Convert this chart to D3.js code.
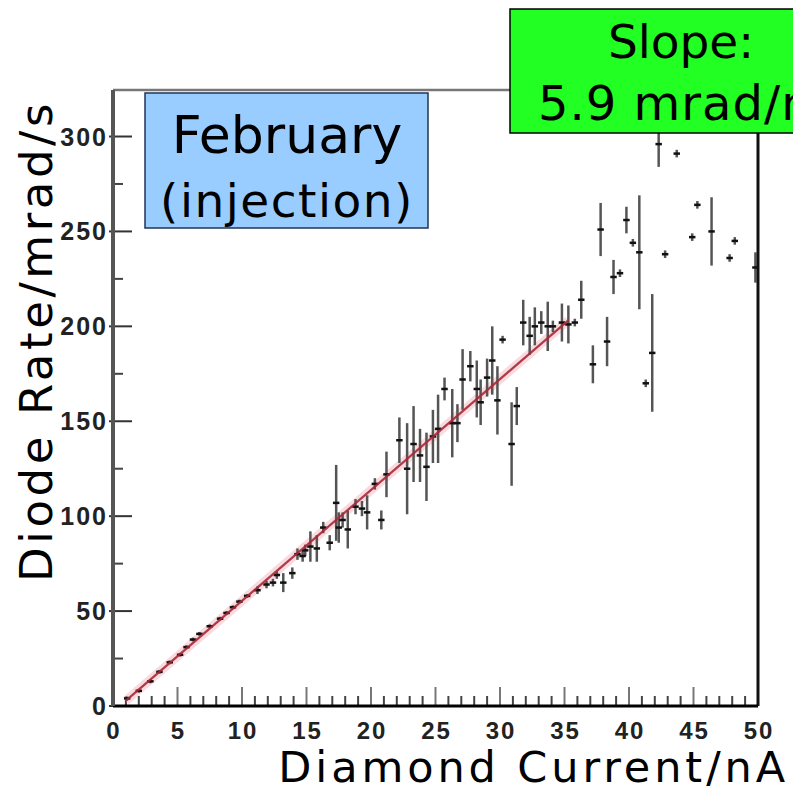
<!DOCTYPE html>
<html>
<head>
<meta charset="utf-8">
<script src="https://cdn.jsdelivr.net/npm/d3@7"></script>
<style>
  body { margin: 0; background: #fff; }
  svg { display: block; }
</style>
</head>
<body>
<svg id="chart" width="793" height="794"></svg>
<script>
// Diamond current vs diode rate, February (injection)
var current = [1.1, 2.0, 2.9, 3.6, 4.4, 5.2, 5.7, 6.2, 6.7, 7.5, 8.3, 8.8, 9.3, 9.8, 10.4,
  11.2, 11.9, 12.4, 12.7, 13.2, 13.9, 14.3, 14.7, 14.9, 15.3, 15.8, 16.3, 16.8, 17.3, 17.5,
  17.8, 18.2, 18.8, 19.3, 19.7, 20.3, 20.8, 21.2, 22.2, 22.8, 23.3, 23.8, 24.3, 24.8, 25.2,
  25.7, 26.3, 26.7, 27.1, 27.7, 28.2, 28.5, 29.0, 29.4, 29.8, 30.2, 30.9, 31.3, 31.8, 32.3,
  32.7, 33.2, 33.7, 34.1, 34.8, 35.3, 35.8, 36.3, 37.2, 37.8, 38.3, 38.8, 39.3, 39.8, 40.3,
  40.8, 41.3, 41.8, 42.3, 42.8, 43.7, 44.9, 45.3, 46.4, 47.8, 48.2, 49.8];
var rate = [4, 8, 13, 18, 23, 27, 31, 35, 38, 42, 46, 49, 52, 55, 58,
  61, 64, 65, 69, 65, 70, 80, 79, 82, 84, 83, 94, 86, 107, 94,
  98, 93, 105, 104, 102, 117, 98, 122, 140, 125, 138, 132, 126, 142, 146,
  167, 149, 149, 172, 179, 167, 160, 173, 182, 161, 193, 138, 158, 202, 195,
  200, 202, 200, 200, 202, 201, 202, 214, 180, 251, 192, 226, 228, 256, 244,
  239, 170, 186, 296, 238, 291, 247, 264, 250, 236, 245, 231];
var rateErr = [1, 1, 1, 1, 1, 1, 1, 1, 1, 1, 1, 1, 1, 1, 1,
  2, 2, 2, 2, 5, 3, 3, 3, 3, 8, 7, 3, 4, 20, 8,
  4, 10, 4, 4, 9, 3, 5, 12, 12, 24, 20, 14, 18, 14, 18,
  6, 18, 10, 16, 8, 15, 12, 10, 18, 18, 2, 22, 10, 12, 10,
  10, 6, 13, 3, 10, 10, 2, 10, 10, 14, 13, 9, 2, 7, 2,
  30, 2, 31, 12, 2, 2, 2, 2, 18, 2, 2, 8];
var currentErr = 0.25;

var fitSlope = 5.84, fitIntercept = -3.0, fitRange = [1.0, 35.3];

var xTicks = [0, 5, 10, 15, 20, 25, 30, 35, 40, 45, 50];
var yTicks = [0, 50, 100, 150, 200, 250, 300];

var margin = { top: 90, right: 35, bottom: 88, left: 113 };
var svgWidth = 793, svgHeight = 794;
var width = svgWidth - margin.left - margin.right;
var height = svgHeight - margin.top - margin.bottom;

var svg = d3.select("#chart");
var g = svg.append("g")
  .attr("transform", "translate(" + margin.left + "," + margin.top + ")");

var x = d3.scaleLinear().domain([0, 50]).range([0, width]);
var y = d3.scaleLinear().domain([0, 324.5]).range([height, 0]);

// minor ticks (ROOT style, drawn inside the frame)
var xMinor = d3.range(0, 51, 1).filter(function(d) { return d % 5 !== 0; });
var yMinor = d3.range(25, 325, 50);

g.selectAll(".xminor").data(xMinor).enter().append("line")
  .attr("x1", function(d) { return x(d); }).attr("x2", function(d) { return x(d); })
  .attr("y1", height).attr("y2", height - 10)
  .attr("stroke", "#444").attr("stroke-width", 2);
g.selectAll(".xmajor").data(xTicks).enter().append("line")
  .attr("x1", function(d) { return x(d); }).attr("x2", function(d) { return x(d); })
  .attr("y1", height).attr("y2", height - 19)
  .attr("stroke", "#777").attr("stroke-width", 2);
g.selectAll(".yminor").data(yMinor).enter().append("line")
  .attr("x1", 0).attr("x2", 10)
  .attr("y1", function(d) { return y(d); }).attr("y2", function(d) { return y(d); })
  .attr("stroke", "#444").attr("stroke-width", 2);
g.selectAll(".ymajor").data(yTicks).enter().append("line")
  .attr("x1", -4).attr("x2", 19)
  .attr("y1", function(d) { return y(d); }).attr("y2", function(d) { return y(d); })
  .attr("stroke", "#333").attr("stroke-width", 2);

// tick labels
g.selectAll(".xlab").data(xTicks).enter().append("text")
  .attr("x", function(d) { return x(d) + 1; })
  .attr("y", height + 33)
  .attr("text-anchor", "middle")
  .style("font-family", "Liberation Sans, Arial, sans-serif")
  .style("font-weight", "bold")
  .style("font-size", "24px")
  .style("letter-spacing", "2px")
  .attr("fill", "#222")
  .text(function(d) { return d; });
g.selectAll(".ylab").data(yTicks).enter().append("text")
  .attr("x", -5)
  .attr("y", function(d) { return y(d) + 9; })
  .attr("text-anchor", "end")
  .style("font-family", "Liberation Sans, Arial, sans-serif")
  .style("font-weight", "bold")
  .style("font-size", "25px")
  .style("letter-spacing", "2px")
  .attr("fill", "#222")
  .text(function(d) { return d; });

// fit line with a soft pink halo
var fitData = fitRange.map(function(v) { return [v, fitSlope * v + fitIntercept]; });
var fitLine = d3.line().x(function(d) { return x(d[0]); }).y(function(d) { return y(d[1]); });
g.append("path").datum(fitData).attr("d", fitLine)
  .attr("fill", "none").attr("stroke", "#f5c2c8").attr("stroke-width", 9).attr("opacity", 0.6);

// error bars + markers
var pts = current.map(function(c, i) { return { x: c, y: rate[i], e: rateErr[i] }; });
g.selectAll(".ebar").data(pts).enter().append("line")
  .attr("x1", function(d) { return x(d.x); }).attr("x2", function(d) { return x(d.x); })
  .attr("y1", function(d) { return y(d.y - d.e); }).attr("y2", function(d) { return y(d.y + d.e); })
  .attr("stroke", "#555").attr("stroke-width", 2.5);
g.selectAll(".mark").data(pts).enter().append("line")
  .attr("x1", function(d) { return x(d.x - currentErr); }).attr("x2", function(d) { return x(d.x + currentErr); })
  .attr("y1", function(d) { return y(d.y); }).attr("y2", function(d) { return y(d.y); })
  .attr("stroke", "#111").attr("stroke-width", 2.5);

g.append("path").datum(fitData).attr("d", fitLine)
  .attr("fill", "none").attr("stroke", "#a82838").attr("stroke-width", 2.2).attr("opacity", 0.9);

// frame
g.append("line").attr("x1", 0).attr("x2", width).attr("y1", 0).attr("y2", 0)
  .attr("stroke", "#777").attr("stroke-width", 2.5);
g.append("line").attr("x1", width).attr("x2", width).attr("y1", 0).attr("y2", height)
  .attr("stroke", "#111").attr("stroke-width", 3);
g.append("line").attr("x1", 0).attr("x2", width).attr("y1", height).attr("y2", height)
  .attr("stroke", "#000").attr("stroke-width", 3);
g.append("line").attr("x1", 0).attr("x2", 0).attr("y1", 0).attr("y2", height)
  .attr("stroke", "#555").attr("stroke-width", 4);

// axis titles
svg.append("text")
  .attr("x", 789).attr("y", 782)
  .attr("text-anchor", "end")
  .style("font-family", "DejaVu Sans, sans-serif")
  .style("font-size", "43px")
  .style("letter-spacing", "3.9px")
  .attr("fill", "#000")
  .text("Diamond Current/nA");
svg.append("text")
  .attr("transform", "translate(52,341) rotate(-90)")
  .attr("text-anchor", "middle")
  .style("font-family", "DejaVu Sans, sans-serif")
  .style("font-size", "45px")
  .style("letter-spacing", "3.6px")
  .attr("fill", "#000")
  .text("Diode Rate/mrad/s");

// label boxes
svg.append("rect")
  .attr("x", 145).attr("y", 93).attr("width", 283).attr("height", 135)
  .attr("fill", "#99ccff").attr("stroke", "#223355").attr("stroke-width", 1.5);
svg.append("text")
  .attr("x", 287).attr("y", 153)
  .attr("text-anchor", "middle")
  .style("font-family", "DejaVu Sans, sans-serif")
  .style("font-size", "52px")
  .attr("fill", "#000")
  .text("February");
svg.append("text")
  .attr("x", 287).attr("y", 217)
  .attr("text-anchor", "middle")
  .style("font-family", "DejaVu Sans, sans-serif")
  .style("font-size", "47px")
  .style("letter-spacing", "1.5px")
  .attr("fill", "#000")
  .text("(injection)");

svg.append("rect")
  .attr("x", 510).attr("y", 9).attr("width", 300).attr("height", 124)
  .attr("fill", "#22ff22").attr("stroke", "#000").attr("stroke-width", 1.5);
svg.append("text")
  .attr("x", 681).attr("y", 58)
  .attr("text-anchor", "middle")
  .style("font-family", "DejaVu Sans, sans-serif")
  .style("font-size", "47px")
  .attr("fill", "#000")
  .text("Slope:");
svg.append("text")
  .attr("x", 538).attr("y", 120)
  .attr("text-anchor", "start")
  .style("font-family", "DejaVu Sans, sans-serif")
  .style("font-size", "48px")
  .style("letter-spacing", "1px")
  .attr("fill", "#000")
  .text("5.9 mrad/nA");
</script>
</body>
</html>
